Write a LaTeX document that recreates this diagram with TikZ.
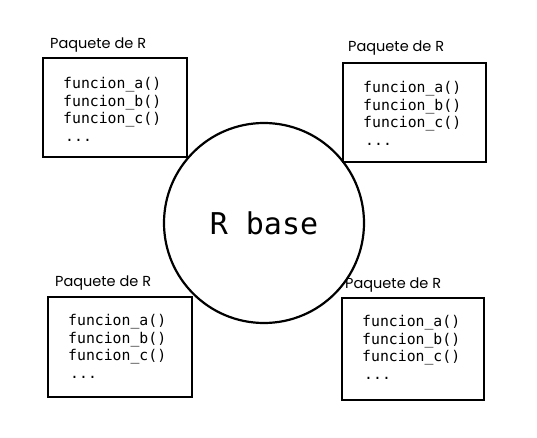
\documentclass[tikz,border=0pt]{standalone}
\usepackage{fontspec}
\newfontfamily\codefont{DejaVu Sans Mono}
\newfontfamily\labfont{Poppins}
\begin{document}
\begin{tikzpicture}[x=1pt,y=-1pt,
  pkgbox/.style={draw=black,line width=2.3pt,fill=white,inner sep=0pt},
  codetext/.style={anchor=north west,inner sep=0pt,align=left,font=\codefont\fontsize{14.8}{17.7}\selectfont},
  pkglabel/.style={anchor=west,inner sep=0pt,font=\labfont\fontsize{14.5}{16}\selectfont}]
\useasboundingbox (0,0) rectangle (537,438);
\fill[white] (0,0) rectangle (537,438);
\node[circle,draw=black,line width=2.2pt,minimum size=200pt,inner sep=0pt,
  font=\codefont\fontsize{30}{34}\selectfont] (base) at (264,223) {R base};
% boxes
\node[pkgbox,minimum width=144pt,minimum height=99pt] (b1) at (115,107.5) {};
\node[pkgbox,minimum width=143pt,minimum height=99pt] (b2) at (414.5,112.5) {};
\node[pkgbox,minimum width=144pt,minimum height=100pt] (b3) at (120,347) {};
\node[pkgbox,minimum width=142pt,minimum height=102pt] (b4) at (413,349) {};
% labels
\node[pkglabel] (l1) at (50,45) {Paquete de R};
\node[pkglabel] (l2) at (348,48) {Paquete de R};
\node[pkglabel] (l3) at (55,283) {Paquete de R};
\node[pkglabel] (l4) at (345,285) {Paquete de R};
% code
\node[codetext] (c1) at (63,77) {funcion\_a()\\funcion\_b()\\funcion\_c()\\\hspace{2pt}...};
\node[codetext] (c2) at (363,81) {funcion\_a()\\funcion\_b()\\funcion\_c()\\\hspace{2pt}...};
\node[codetext] (c3) at (68,314) {funcion\_a()\\funcion\_b()\\funcion\_c()\\\hspace{2pt}...};
\node[codetext] (c4) at (362,315) {funcion\_a()\\funcion\_b()\\funcion\_c()\\\hspace{2pt}...};
\end{tikzpicture}
\end{document}
